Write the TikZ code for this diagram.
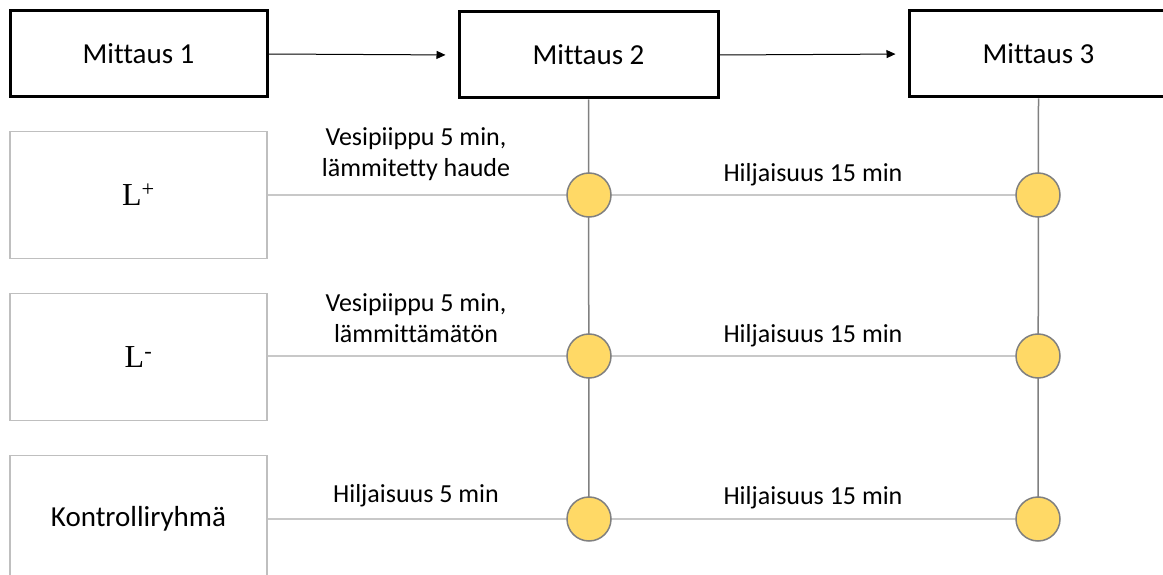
\documentclass[tikz,border=0pt]{standalone}
\usepackage{fontspec}
\setmainfont{Carlito}[Ligatures={NoCommon}]
\newfontfamily\serifL{Liberation Serif}
\usetikzlibrary{arrows.meta,backgrounds}
\definecolor{boxgray}{HTML}{BFBFBF}
\definecolor{linegray}{HTML}{C8C8C8}
\definecolor{vgray}{HTML}{808080}
\definecolor{dotfill}{HTML}{FFD966}
\tikzset{
  topbox/.style={draw=black, line width=3pt, fill=white, minimum width=257pt, minimum height=86pt, font=\fontsize{29}{34}\selectfont, inner sep=0pt},
  groupbox/.style={draw=boxgray, line width=1.8pt, fill=white, minimum width=257pt, minimum height=127pt, inner sep=0pt},
  dot/.style={circle, draw=vgray, line width=1.5pt, fill=dotfill, minimum size=44pt, inner sep=0pt},
  lbl/.style={font=\fontsize{26}{31}\selectfont, align=center, inner sep=0pt},
  flow/.style={line width=1pt, -{Triangle[length=9pt,width=8pt]}, shorten >=12pt},
  hline/.style={draw=linegray, line width=1.5pt},
  vline/.style={draw=vgray, line width=1.5pt},
}
\begin{document}
\begin{tikzpicture}[x=1pt,y=-1pt]
\useasboundingbox (0,0) rectangle (1163,575);
% top boxes
\node[topbox] (m1) at (138.5,54) {Mittaus 1};
\node[topbox, minimum width=259pt] (m2) at (588.5,55) {Mittaus 2};
\node[topbox, minimum width=259pt] (m3) at (1038.5,54) {Mittaus 3};
\draw[flow] (m1.east) -- (m2.west);
\draw[flow] (m2.east) -- (m3.west);
% group boxes
\node[groupbox] (g1) at (138.5,195) {\serifL\fontsize{32}{36}\selectfont L\textsuperscript{+}};
\node[groupbox] (g2) at (138.5,357) {\serifL\fontsize{32}{36}\selectfont L\textsuperscript{-}};
\node[groupbox] (g3) at (138.5,519) {\fontsize{29}{34}\selectfont Kontrolliryhmä};
% dots
\node[dot] (d12) at (589,195) {};
\node[dot] (d13) at (1038,195) {};
\node[dot] (d22) at (589,356) {};
\node[dot] (d23) at (1038,356) {};
\node[dot] (d32) at (589,519) {};
\node[dot] (d33) at (1038,519) {};
\begin{scope}[on background layer]
\draw[vline] (m2.south) -- (d32.center);
\draw[vline] (m3.south) -- (d33.center);
\draw[hline] (g1.east |- d12.center) -- (d13.center);
\draw[hline] (g2.east |- d22.center) -- (d23.center);
\draw[hline] (g3.east |- d32.center) -- (d33.center);
\end{scope}
% labels
\node[lbl] (t11) at (416,154) {Vesipiippu 5 min,\\lämmitetty haude};
\node[lbl] (t12) at (813,175) {Hiljaisuus 15 min};
\node[lbl] (t21) at (416,318) {Vesipiippu 5 min,\\lämmittämätön};
\node[lbl] (t22) at (813,336) {Hiljaisuus 15 min};
\node[lbl] (t31) at (416,496) {Hiljaisuus 5 min};
\node[lbl] (t32) at (813,498) {Hiljaisuus 15 min};
\end{tikzpicture}
\end{document}
